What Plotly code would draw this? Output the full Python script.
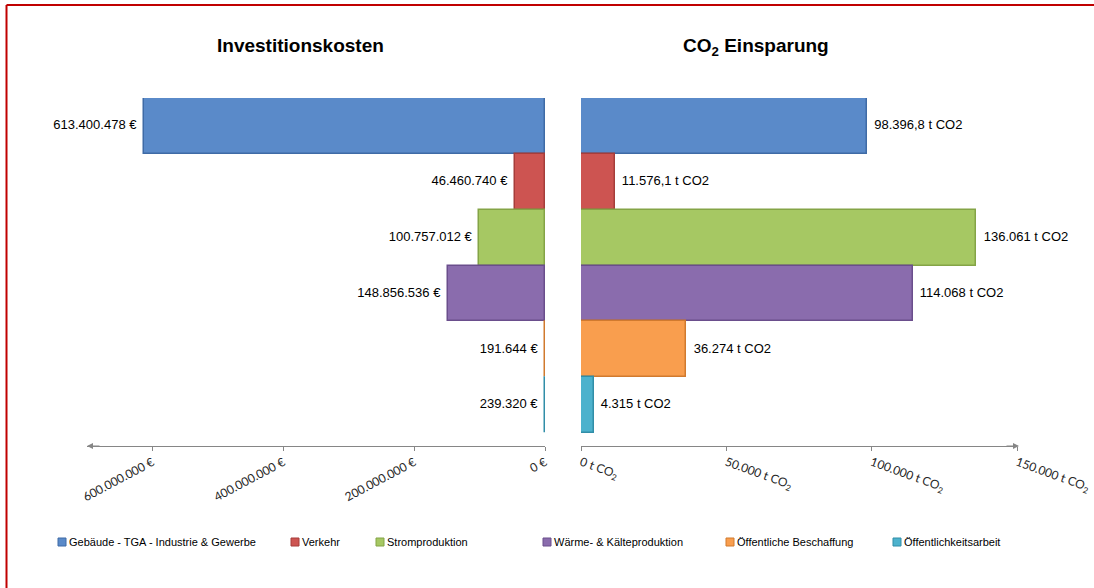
import plotly.graph_objects as go

W, H = 1094, 588

categories = [
    "Gebäude - TGA - Industrie & Gewerbe",
    "Verkehr",
    "Stromproduktion",
    "Wärme- & Kälteproduktion",
    "Öffentliche Beschaffung",
    "Öffentlichkeitsarbeit",
]
invest_eur = [613400478, 46460740, 100757012, 148856536, 191644, 239320]
co2_t = [98396.8, 11576.1, 136061, 114068, 36274, 4315]

invest_ticks = [0, 200e6, 400e6, 600e6]
invest_ticktext = ["0 €", "200.000.000 €", "400.000.000 €", "600.000.000 €"]
co2_ticks = [0, 50000, 100000, 150000]
co2_ticktext = ["0 t CO<sub>2</sub>", "50.000 t CO<sub>2</sub>",
                "100.000 t CO<sub>2</sub>", "150.000 t CO<sub>2</sub>"]

colors = ["#5A8AC9", "#CD5451", "#A6C863", "#8A6CAD", "#F99E4E", "#4DB2CD"]
edges = ["#3F6BA6", "#A63D3A", "#84A446", "#6A4E8C", "#D17A2E", "#318EA8"]


def de_num(v):
    if float(v).is_integer():
        s = f"{int(v):,}".replace(",", ".")
    else:
        s = f"{v:,.1f}".replace(",", "X").replace(".", ",").replace("X", ".")
    return s


LABEL_FONT = dict(family="Liberation Sans, Arial", size=13, color="black")

fig = go.Figure()

for i, c in enumerate(categories):
    fig.add_trace(go.Bar(
        y=[c], x=[invest_eur[i]], orientation="h",
        marker=dict(color=colors[i], line=dict(color=edges[i], width=1.5)),
        showlegend=False, hoverinfo="skip", xaxis="x", yaxis="y",
    ))
    fig.add_trace(go.Bar(
        y=[c], x=[co2_t[i]], orientation="h",
        marker=dict(color=colors[i], line=dict(color=edges[i], width=1.5)),
        showlegend=False, hoverinfo="skip", xaxis="x2", yaxis="y2",
    ))

# value labels at the bar ends, positioned through the axes
fig.add_trace(go.Scatter(
    x=invest_eur, y=categories, mode="text",
    text=[de_num(v) + " €\u00a0\u00a0" for v in invest_eur],
    textposition="middle left", textfont=LABEL_FONT,
    cliponaxis=False, showlegend=False, hoverinfo="skip",
    xaxis="x", yaxis="y",
))
fig.add_trace(go.Scatter(
    x=co2_t, y=categories, mode="text",
    text=["\u00a0\u00a0" + de_num(v) + " t CO2" for v in co2_t],
    textposition="middle right", textfont=LABEL_FONT,
    cliponaxis=False, showlegend=False, hoverinfo="skip",
    xaxis="x2", yaxis="y2",
))

ytop, ybot = 98, 446
ydom = [1 - ybot / H, 1 - ytop / H]
xl = [87 / W, 545 / W]
xr = [581 / W, 1017 / W]

axis_common = dict(showgrid=False, zeroline=False, showline=True,
                   linecolor="#868686", linewidth=1, ticks="outside",
                   ticklen=4, tickcolor="#868686", automargin=False,
                   tickfont=dict(family="Lato, Open Sans", size=12, color="#262626"))

yaxis_common = dict(categoryorder="array", categoryarray=categories,
                    range=[5.73, -0.5], visible=False, domain=ydom,
                    automargin=False, fixedrange=True)

fig.update_layout(
    width=W, height=H, autosize=False,
    margin=dict(l=0, r=0, t=0, b=0, autoexpand=False),
    paper_bgcolor="white", plot_bgcolor="rgba(0,0,0,0)",
    barmode="overlay", bargap=0,
    xaxis=dict(domain=xl, range=[700e6, 0], tickvals=invest_ticks,
               ticktext=invest_ticktext, tickangle=-28, anchor="y", **axis_common),
    yaxis=dict(anchor="x", **yaxis_common),
    xaxis2=dict(domain=xr, range=[0, 150000], tickvals=co2_ticks,
                ticktext=co2_ticktext, tickangle=20, anchor="y2", **axis_common),
    yaxis2=dict(anchor="x2", **yaxis_common),
)

ann = []
TITLE_FONT = dict(family="Liberation Sans, Arial", size=19, color="black")
ann.append(dict(text="<b>Investitionskosten</b>", x=300 / W, y=1 - 45 / H,
                xref="paper", yref="paper", showarrow=False,
                xanchor="center", yanchor="middle", font=TITLE_FONT))
ann.append(dict(text="<b>CO<sub>2</sub> Einsparung</b>", x=756 / W, y=1 - 47 / H,
                xref="paper", yref="paper", showarrow=False,
                xanchor="center", yanchor="middle", font=TITLE_FONT))
ax_y = 1 - ybot / H
ann.append(dict(x=87 / W, y=ax_y, xref="paper", yref="paper", ax=14, ay=0,
                showarrow=True, arrowhead=2, arrowsize=1.2, arrowwidth=1,
                arrowcolor="#868686", text=""))
ann.append(dict(x=1019 / W, y=ax_y, xref="paper", yref="paper", ax=-14, ay=0,
                showarrow=True, arrowhead=2, arrowsize=1.2, arrowwidth=1,
                arrowcolor="#868686", text=""))

# legend swatches and labels
leg_x = [58, 291, 376, 543, 726, 893]
leg_y = 542
shapes = []
for i, c in enumerate(categories):
    shapes.append(dict(type="rect", xref="paper", yref="paper",
                       x0=leg_x[i] / W, x1=(leg_x[i] + 8) / W,
                       y0=1 - (leg_y + 4) / H, y1=1 - (leg_y - 4) / H,
                       fillcolor=colors[i], line=dict(color=edges[i], width=1)))
    ann.append(dict(text=c, x=(leg_x[i] + 9) / W, y=1 - leg_y / H,
                    xref="paper", yref="paper", xanchor="left", yanchor="middle",
                    showarrow=False,
                    font=dict(family="Liberation Sans, Arial", size=11, color="black")))

# red frame (top and left)
shapes.append(dict(type="line", xref="paper", yref="paper",
                   x0=6.5 / W, x1=1.0, y0=1 - 5 / H, y1=1 - 5 / H,
                   line=dict(color="#C00000", width=2)))
shapes.append(dict(type="line", xref="paper", yref="paper",
                   x0=6.5 / W, x1=6.5 / W, y0=0, y1=1 - 5 / H,
                   line=dict(color="#C00000", width=2)))

fig.update_layout(annotations=ann, shapes=shapes)

fig.write_html(
    "out.html",
    config={"responsive": False, "displayModeBar": False},
    post_script="document.body.style.margin='0';document.body.style.overflow='hidden';",
)
